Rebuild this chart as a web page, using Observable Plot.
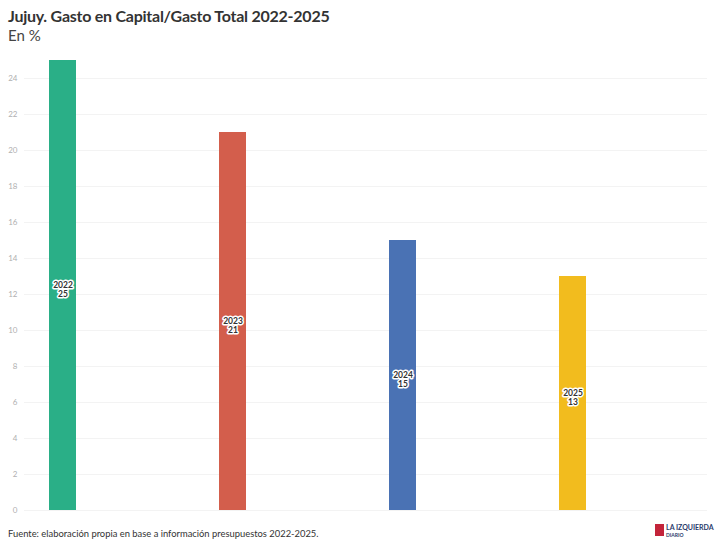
<!DOCTYPE html>
<html>
<head>
<meta charset="utf-8">
<script src="https://cdn.jsdelivr.net/npm/d3@7"></script>
<script src="https://cdn.jsdelivr.net/npm/@observablehq/plot@0.6"></script>
<style>
  body { margin: 0; background: #fff; font-family: Lato, "Noto Sans", sans-serif; width: 720px; height: 550px; overflow: hidden; position: relative; }
  #title { position: absolute; left: 8px; top: 6px; font-size: 16px; font-weight: bold; color: #333; letter-spacing: -0.25px; }
  #subtitle { position: absolute; left: 8px; top: 26px; font-size: 15px; color: #444; }
  #chart { position: absolute; left: 0; top: 48px; }
  #footer { position: absolute; left: 8px; top: 528px; font-size: 9.4px; color: #333; }
  #logo { position: absolute; left: 655px; top: 524px; font-size: 7px; font-weight: bold; color: #2a3b6b; line-height: 7px; }
  #logo .mark { display: inline-block; width: 9px; height: 12px; background: #c3243a; vertical-align: top; margin-right: 2px; }
</style>
</head>
<body>
<div id="title">Jujuy. Gasto en Capital/Gasto Total 2022-2025</div>
<div id="subtitle">En %</div>
<div id="chart"></div>
<div id="footer">Fuente: elaboración propia en base a información presupuestos 2022-2025.</div>
<div id="logo"><span class="mark"></span><span style="display:inline-block">LA IZQUIERDA<br><span style="font-size:5px">DIARIO</span></span></div>
<script>
const years = ["2022", "2023", "2024", "2025"];
const values = [25, 21, 15, 13];
const colors = ["#2aaf87", "#d35e4c", "#4a72b4", "#f2bc1e"];
const yTicks = [0, 2, 4, 6, 8, 10, 12, 14, 16, 18, 20, 22, 24];

const data = years.map((y, i) => ({year: y, value: values[i]}));

const chart = Plot.plot({
  width: 720,
  height: 472,
  marginLeft: 24,
  marginRight: 13,
  marginTop: 12,
  marginBottom: 10,
  style: {fontFamily: "Lato, 'Noto Sans', sans-serif", background: "#fff"},
  x: {domain: years, range: [48, 586], paddingInner: 0.842, paddingOuter: 0, axis: null},
  y: {domain: [0, 25], ticks: yTicks, grid: false},
  color: {domain: years, range: colors},
  marks: [
    Plot.ruleY(yTicks, {stroke: "#f3f3f3", strokeWidth: 1}),
    Plot.ruleX([0], {x: () => 24, frameAnchor: "left", stroke: "#e8e8e8"}),
    Plot.axisY({ticks: yTicks, tickSize: 0, tickPadding: 7, fontSize: 8, color: "#b0b0b0", fill: "#b0b0b0", label: null}),
    Plot.barY(data, {x: "year", y: "value", fill: "year"}),
    Plot.text(data, {
      x: "year", y: d => d.value / 2, dy: 4,
      text: d => `${d.year}\n${d.value}`,
      fontSize: 8.5, fontWeight: "bold", fill: "#333",
      stroke: "white", strokeWidth: 3, lineHeight: 1.05
    })
  ]
});
document.getElementById("chart").appendChild(chart);
</script>
</body>
</html>
